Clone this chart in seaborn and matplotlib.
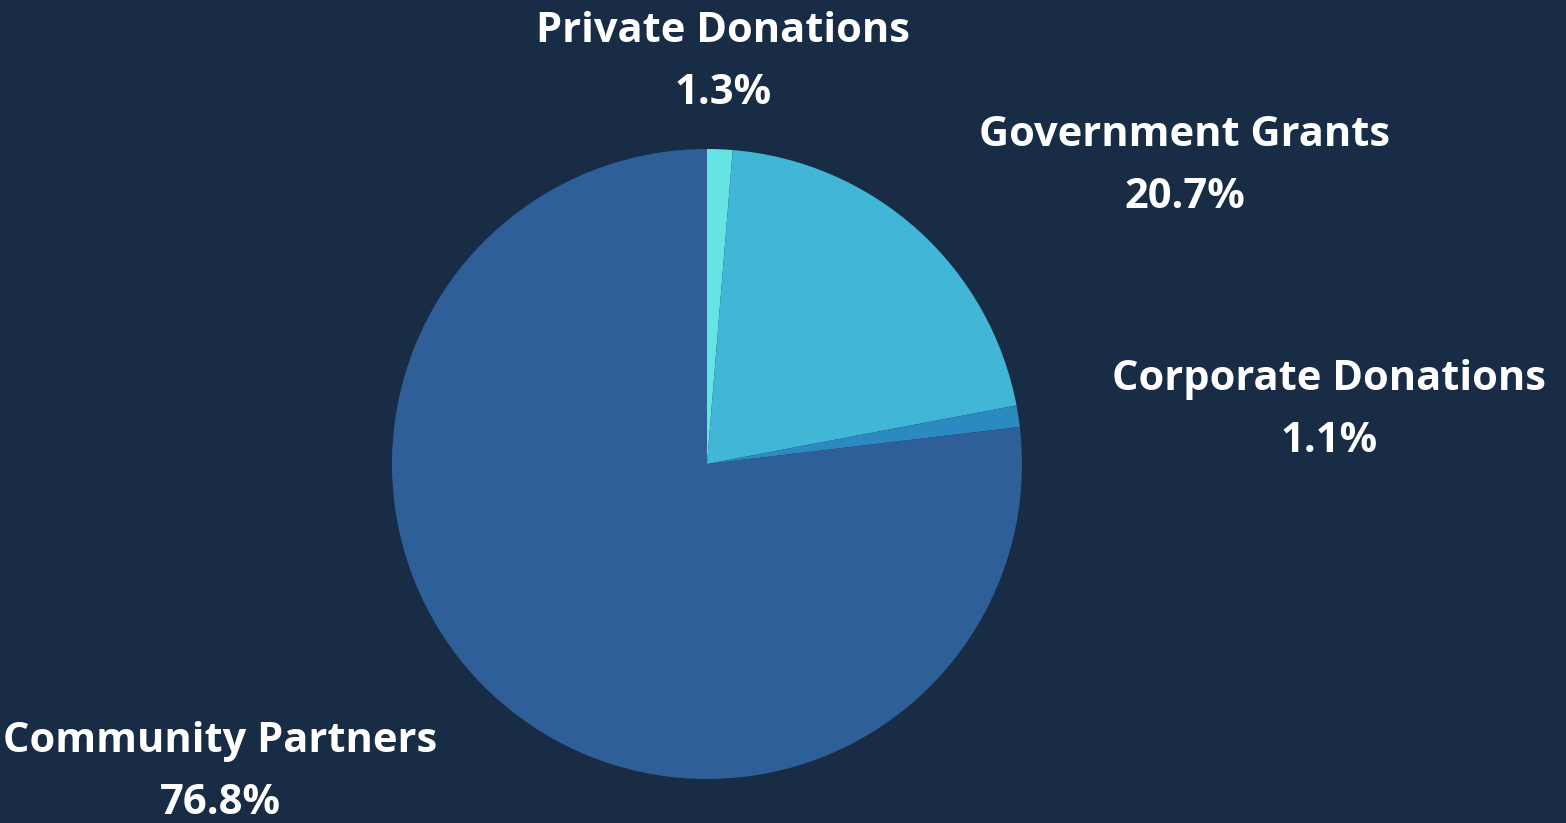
import matplotlib
matplotlib.use("Agg")
import matplotlib.pyplot as plt
import seaborn as sns

# funding sources, clockwise from 12 o'clock
sources = ["Private Donations", "Government Grants", "Corporate Donations", "Community Partners"]
shares = [1.3, 20.7, 1.1, 76.8]
colors = ["#66e3e3", "#41b6d6", "#2b8abf", "#2e5f99"]

# label centres in pixels (x, y from top)
label_pos = [(723, 62), (1185, 167), (1329, 410), (220, 773)]

bg = "#182c46"
sns.set_style("dark")
plt.rcParams["font.family"] = ["Open Sans", "DejaVu Sans"]

W, H = 1566, 823
fig = plt.figure(figsize=(W / 100, H / 100), dpi=100, facecolor=bg)

cx, cy, r = 707, 464, 315
ax = fig.add_axes([(cx - r) / W, (H - cy - r) / H, 2 * r / W, 2 * r / H])
ax.set_facecolor(bg)
ax.pie(shares, colors=sns.color_palette(colors), startangle=90, counterclock=False,
       radius=1, wedgeprops=dict(linewidth=0))
ax.set_xlim(-1, 1)
ax.set_ylim(-1, 1)
ax.axis("off")

for name, val, (px, py) in zip(sources, shares, label_pos):
    fig.text(px / W, 1 - (py - 31) / H, name, ha="center", va="center",
             color="white", fontsize=30, fontweight="bold")
    fig.text(px / W, 1 - (py + 31) / H, f"{val}%", ha="center", va="center",
             color="white", fontsize=30, fontweight="bold")

fig.savefig("out.png", dpi=100, facecolor=bg)
